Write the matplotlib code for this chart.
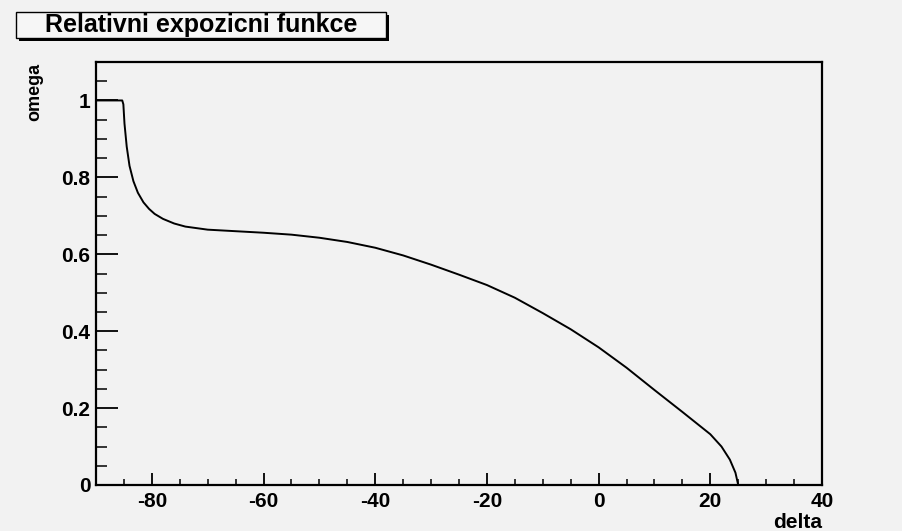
import numpy as np
import matplotlib
matplotlib.use('Agg')
import matplotlib.pyplot as plt
from matplotlib.patches import Rectangle
from matplotlib.ticker import MultipleLocator

plt.rcParams['font.family'] = ['Liberation Sans', 'DejaVu Sans']
plt.rcParams['font.weight'] = 'bold'
plt.rcParams['axes.unicode_minus'] = False

# relative exposure function omega(delta)
delta = [-90, -85.3, -85.1, -84.9, -84.5, -84.0, -83.3, -82.5, -81.5, -80.5,
         -79.5, -78.0, -76.0, -74.0, -70.0, -65.0, -60.0, -55.0, -50.0, -45.0,
         -40.0, -35.0, -30.0, -25.0, -20.0, -15.0, -10.0, -5.0, 0.0, 5.0,
         10.0, 15.0, 20.0, 22.0, 23.5, 24.5, 25.0]
omega = [1.0, 1.0, 0.99, 0.94, 0.88, 0.83, 0.79, 0.76, 0.735, 0.718,
         0.705, 0.692, 0.68, 0.672, 0.664, 0.66, 0.656, 0.651, 0.643, 0.632,
         0.617, 0.597, 0.573, 0.547, 0.52, 0.487, 0.447, 0.405, 0.358, 0.305,
         0.247, 0.19, 0.132, 0.1, 0.066, 0.032, 0.0]

bg = '#f2f2f2'
W, H = 902, 531
fig = plt.figure(figsize=(W / 100, H / 100), dpi=100, facecolor=bg)
ax = fig.add_axes([96 / W, 1 - 485 / H, (822 - 96) / W, (485 - 62) / H], facecolor=bg)

ax.plot(delta, omega, color='black', lw=1.4)

ax.set_xlim(-90, 40)
ax.set_ylim(0, 1.1)
ax.xaxis.set_major_locator(MultipleLocator(20))
ax.xaxis.set_minor_locator(MultipleLocator(5))
ax.yaxis.set_major_locator(MultipleLocator(0.2))
ax.yaxis.set_minor_locator(MultipleLocator(0.05))
ax.yaxis.set_major_formatter(plt.FuncFormatter(lambda v, p: '0' if v == 0 else ('1' if abs(v - 1) < 1e-9 else f'{v:.1f}')))

ax.tick_params(axis='x', which='major', direction='in', length=8.5, width=1.3, labelsize=15, pad=5)
ax.tick_params(axis='x', which='minor', direction='in', length=4.5, width=1.1)
ax.tick_params(axis='y', which='major', direction='in', length=16, width=1.3, labelsize=15, pad=4)
ax.tick_params(axis='y', which='minor', direction='in', length=8, width=1.1)
for s in ax.spines.values():
    s.set_linewidth(1.6)

fig.text(35 / W, 1 - 63 / H, 'omega', rotation=90, ha='center', va='top', fontsize=13, fontweight='bold')
fig.text(822 / W, 1 - 528 / H, 'delta', ha='right', va='baseline', fontsize=15, fontweight='bold')

# title box with shadow
bx0, bx1, by0, by1 = 16, 386, 12, 38
fig.patches.append(Rectangle(((bx0 + 3) / W, 1 - (by1 + 3) / H), (bx1 - bx0) / W, (by1 - by0) / H,
                             transform=fig.transFigure, facecolor='black', edgecolor='none'))
fig.patches.append(Rectangle((bx0 / W, 1 - by1 / H), (bx1 - bx0) / W, (by1 - by0) / H,
                             transform=fig.transFigure, facecolor='#f6f6f6', edgecolor='black', lw=1))
fig.text((bx0 + bx1) / 2 / W, 1 - 25 / H, 'Relativni expozicni funkce', ha='center', va='center',
         fontsize=18, fontweight='bold')

fig.savefig('out.png', dpi=100, facecolor=bg)
